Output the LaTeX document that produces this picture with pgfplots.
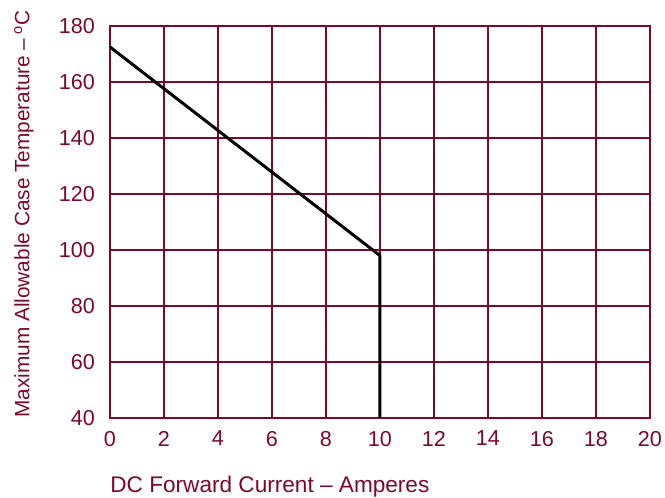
\documentclass[border=0pt]{standalone}
\usepackage{pgfplots}
\pgfplotsset{compat=1.18}
\usepackage{fontspec}
\setmainfont{Liberation Sans}
\definecolor{maroon}{RGB}{122,8,44}
\begin{document}
\begin{tikzpicture}
\begin{axis}[
  name=ax,
  scale only axis,
  width=270pt, height=196pt,
  xmin=0, xmax=20, ymin=40, ymax=180,
  xtick={0,2,...,20}, ytick={40,60,...,180},
  grid=major,
  major grid style={maroon, line width=1pt},
  axis line style={maroon, line width=1pt},
  major tick length=0pt,
  /pgf/number format/assume math mode=true,
  tick label style={font=\fontsize{10.8}{13}\selectfont, text=maroon},
  xticklabel style={yshift=-3pt},
  yticklabel style={xshift=-4pt},
  axis on top=false,
]
\addplot[black, line width=1.5pt, line join=round] coordinates {(0,172.5) (10,98) (10,40)};
\end{axis}
\node[anchor=north west, inner sep=0pt, text=maroon, font=\fontsize{11.3}{13}\selectfont] at ([yshift=-29pt]ax.south west) {DC Forward Current -- Amperes};
\node[rotate=90, anchor=north west, inner sep=0pt, text=maroon, font=\fontsize{10.4}{13}\selectfont] at ([xshift=-48pt]ax.south west) {Maximum Allowable Case Temperature --\,\textsuperscript{o}C};
\pgfresetboundingbox
\path ([shift={(-55pt,-40pt)}]ax.south west) rectangle ([shift={(7.5pt,13pt)}]ax.north east);
\end{tikzpicture}
\end{document}
